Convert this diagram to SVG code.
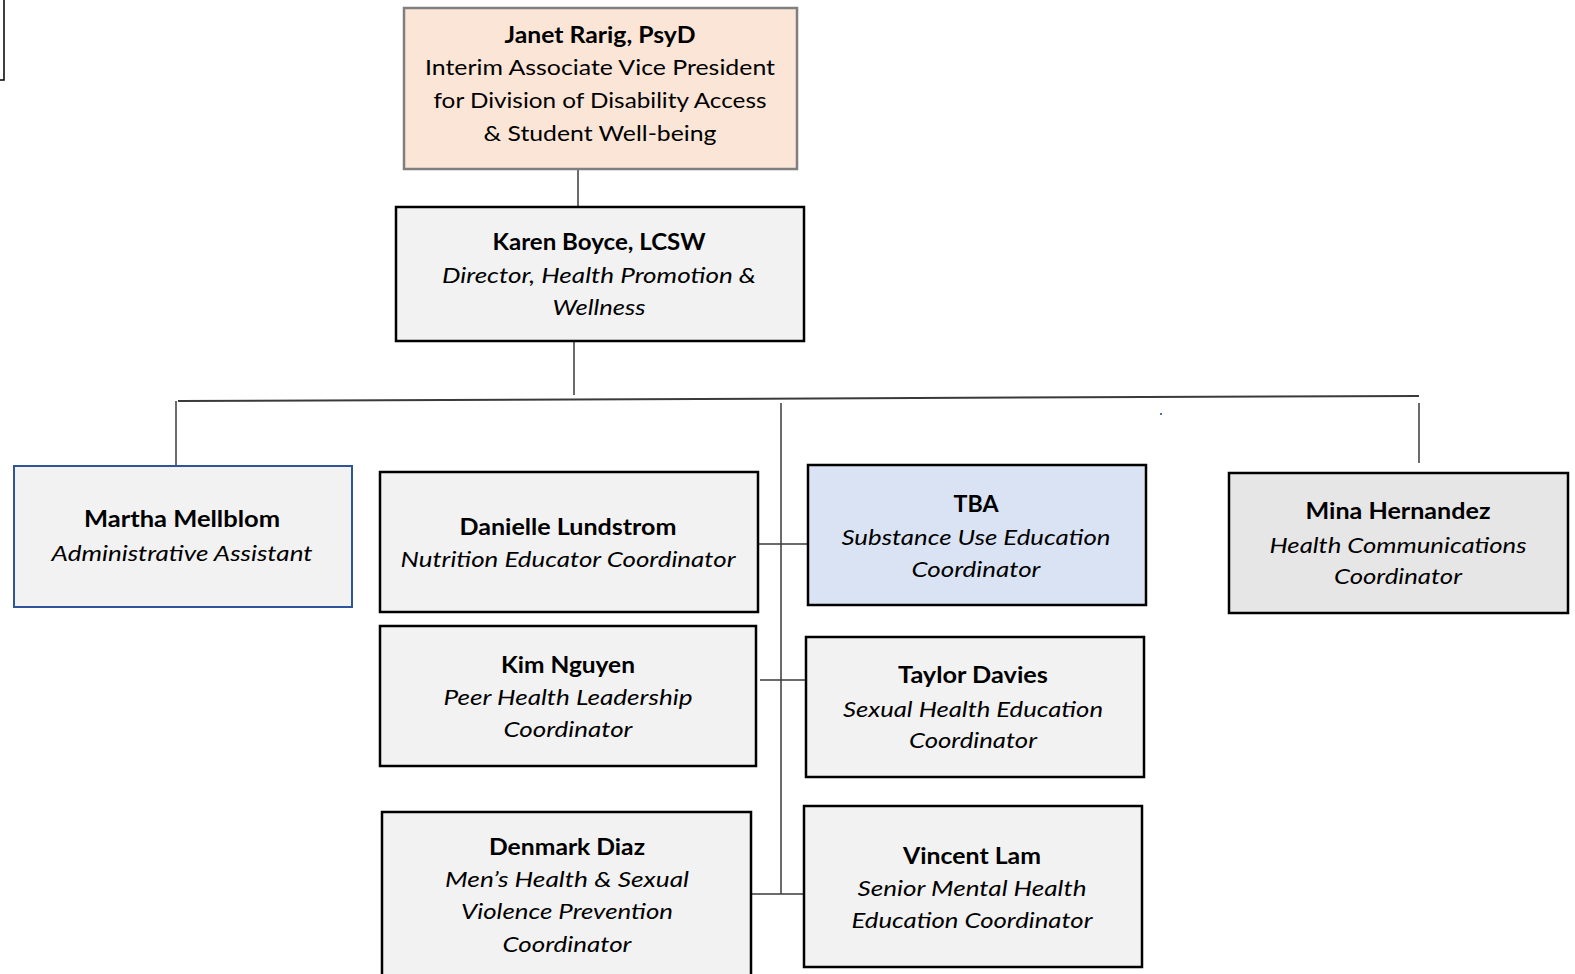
<svg xmlns="http://www.w3.org/2000/svg" width="1575" height="974" viewBox="0 0 1575 974">
<style>
text{font-family:Lato,"Open Sans","Liberation Sans",sans-serif;font-size:22px;fill:#000;text-anchor:middle}
.b{font-weight:bold}
.i{font-style:italic}
.box{fill:#f2f2f2;stroke:#000;stroke-width:2.5}
.ln{stroke:#3a3a3a;stroke-width:1.5;fill:none}
</style>
<rect width="1575" height="974" fill="#fff"/>
<path d="M0,80 H4 V0" fill="none" stroke="#000" stroke-width="1.5"/>
<g id="connectors">
<line class="ln" x1="578" y1="169" x2="578" y2="207"/>
<line class="ln" x1="574" y1="341" x2="574" y2="395"/>
<line class="ln" x1="178" y1="401" x2="1419" y2="396" style="stroke-width:2"/>
<line class="ln" x1="176" y1="401" x2="176" y2="466"/>
<line class="ln" x1="781" y1="403" x2="781" y2="894"/>
<line class="ln" x1="1419" y1="403" x2="1419" y2="463"/>
<line class="ln" x1="758" y1="544" x2="808" y2="544"/>
<line class="ln" x1="760" y1="680" x2="806" y2="680"/>
<line class="ln" x1="751" y1="894" x2="804" y2="894"/>
</g>
<rect x="1160" y="413" width="2" height="2" fill="#4472c4"/>
<g id="janet">
<rect x="404" y="8" width="393" height="161" fill="#fbe5d6" stroke="#7f7f7f" stroke-width="2.5"/>
<text x="600" y="43" class="b" textLength="191" lengthAdjust="spacingAndGlyphs">Janet Rarig, PsyD</text>
<text x="600" y="75" textLength="350" lengthAdjust="spacingAndGlyphs">Interim Associate Vice President</text>
<text x="600" y="108" textLength="333" lengthAdjust="spacingAndGlyphs">for Division of Disability Access</text>
<text x="600" y="141" textLength="233" lengthAdjust="spacingAndGlyphs">&amp; Student Well-being</text>
</g>
<g id="karen">
<rect class="box" x="396" y="207" width="408" height="134"/>
<text x="599" y="250" class="b" textLength="213" lengthAdjust="spacingAndGlyphs">Karen Boyce, LCSW</text>
<text x="599" y="283" class="i" textLength="314" lengthAdjust="spacingAndGlyphs">Director, Health Promotion &amp;</text>
<text x="599" y="315" class="i" textLength="93" lengthAdjust="spacingAndGlyphs">Wellness</text>
</g>
<g id="martha">
<rect x="14" y="466" width="338" height="141" fill="#f2f2f2" stroke="#2f5597" stroke-width="2"/>
<text x="182" y="527" class="b" textLength="196" lengthAdjust="spacingAndGlyphs">Martha Mellblom</text>
<text x="182" y="561" class="i" textLength="261" lengthAdjust="spacingAndGlyphs">Administrative Assistant</text>
</g>
<g id="danielle">
<rect class="box" x="380" y="472" width="378" height="140"/>
<text x="568" y="535" class="b" textLength="217" lengthAdjust="spacingAndGlyphs">Danielle Lundstrom</text>
<text x="568" y="567" class="i" textLength="335" lengthAdjust="spacingAndGlyphs">Nutrition Educator Coordinator</text>
</g>
<g id="kim">
<rect class="box" x="380" y="626" width="376" height="140"/>
<text x="568" y="673" class="b" textLength="134" lengthAdjust="spacingAndGlyphs">Kim Nguyen</text>
<text x="568" y="705" class="i" textLength="249" lengthAdjust="spacingAndGlyphs">Peer Health Leadership</text>
<text x="568" y="737" class="i" textLength="129" lengthAdjust="spacingAndGlyphs">Coordinator</text>
</g>
<g id="denmark">
<rect class="box" x="382" y="812" width="369" height="175"/>
<text x="567" y="855" class="b" textLength="156" lengthAdjust="spacingAndGlyphs">Denmark Diaz</text>
<text x="567" y="887" class="i" textLength="244" lengthAdjust="spacingAndGlyphs">Men’s Health &amp; Sexual</text>
<text x="567" y="919" class="i" textLength="212" lengthAdjust="spacingAndGlyphs">Violence Prevention</text>
<text x="567" y="952" class="i" textLength="129" lengthAdjust="spacingAndGlyphs">Coordinator</text>
</g>
<g id="tba">
<rect x="808" y="465" width="338" height="140" fill="#dae3f3" stroke="#000" stroke-width="2.5"/>
<text x="976" y="512" class="b" textLength="45" lengthAdjust="spacingAndGlyphs">TBA</text>
<text x="976" y="545" class="i" textLength="269" lengthAdjust="spacingAndGlyphs">Substance Use Education</text>
<text x="976" y="577" class="i" textLength="129" lengthAdjust="spacingAndGlyphs">Coordinator</text>
</g>
<g id="taylor">
<rect class="box" x="806" y="637" width="338" height="140"/>
<text x="973" y="683" class="b" textLength="150" lengthAdjust="spacingAndGlyphs">Taylor Davies</text>
<text x="973" y="717" class="i" textLength="260" lengthAdjust="spacingAndGlyphs">Sexual Health Education</text>
<text x="973" y="748" class="i" textLength="128" lengthAdjust="spacingAndGlyphs">Coordinator</text>
</g>
<g id="vincent">
<rect class="box" x="804" y="806" width="338" height="161"/>
<text x="972" y="864" class="b" textLength="138" lengthAdjust="spacingAndGlyphs">Vincent Lam</text>
<text x="972" y="896" class="i" textLength="229" lengthAdjust="spacingAndGlyphs">Senior Mental Health</text>
<text x="972" y="928" class="i" textLength="241" lengthAdjust="spacingAndGlyphs">Education Coordinator</text>
</g>
<g id="mina">
<rect x="1229" y="473" width="339" height="140" fill="#e7e6e6" stroke="#000" stroke-width="2.5"/>
<text x="1398" y="519" class="b" textLength="185" lengthAdjust="spacingAndGlyphs">Mina Hernandez</text>
<text x="1398" y="553" class="i" textLength="257" lengthAdjust="spacingAndGlyphs">Health Communications</text>
<text x="1398" y="584" class="i" textLength="128" lengthAdjust="spacingAndGlyphs">Coordinator</text>
</g>
</svg>
